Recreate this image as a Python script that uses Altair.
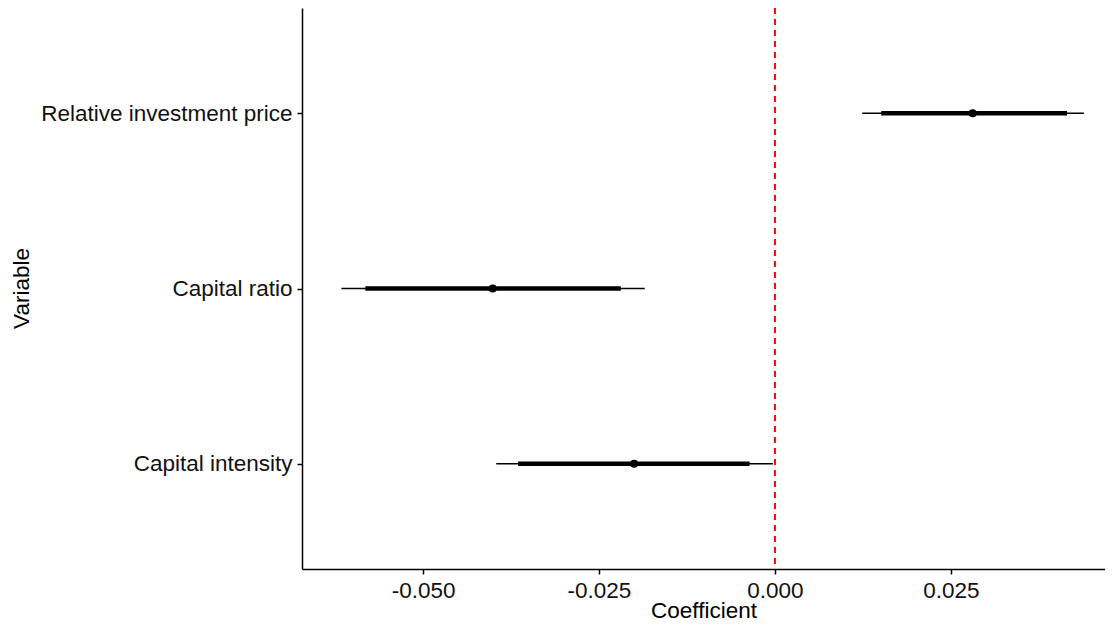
import altair as alt
import pandas as pd

variables = ["Capital intensity", "Capital ratio", "Relative investment price"]
estimate = [-0.0200, -0.0401, 0.0281]
thick_low = [-0.0365, -0.0582, 0.0151]
thick_high = [-0.0036, -0.0219, 0.0415]
thin_low = [-0.0396, -0.0616, 0.0124]
thin_high = [-0.0003, -0.0185, 0.0439]
x_ticks = [-0.050, -0.025, 0.000, 0.025]
ref_line = [0.0]

df = pd.DataFrame({
    "Variable": variables,
    "est": estimate,
    "tlo": thick_low,
    "thi": thick_high,
    "nlo": thin_low,
    "nhi": thin_high,
})

FONT = "Liberation Sans"
order = list(reversed(variables))

xscale = alt.Scale(domain=[-0.0672, 0.0469], nice=False, zero=False)
yscale = alt.Scale(domain=order, type="point", padding=0.6)

xaxis = alt.Axis(
    values=x_ticks,
    labelExpr="replace(format(datum.value, '.3f'), '\u2212', '-')",
    title="Coefficient",
    grid=False,
    titleY=48,
    titleBaseline="alphabetic",
)
yaxis = alt.Axis(
    title="Variable",
    grid=False,
    titleX=-274,
    titleY=280,
    titleBaseline="alphabetic",
    titleAngle=270,
    labelLimit=0,
)

base = alt.Chart(df)

thin = base.mark_rule(color="black", strokeWidth=1.5).encode(
    x=alt.X("nlo:Q", scale=xscale, axis=xaxis),
    x2="nhi:Q",
    y=alt.Y("Variable:N", scale=yscale, sort=order, axis=yaxis),
)
thick = base.mark_rule(color="black", strokeWidth=4.5).encode(
    x=alt.X("tlo:Q", scale=xscale),
    x2="thi:Q",
    y=alt.Y("Variable:N", scale=yscale, sort=order),
)
pts = base.mark_circle(color="black", opacity=1, size=65).encode(
    x=alt.X("est:Q", scale=xscale),
    y=alt.Y("Variable:N", scale=yscale, sort=order),
)
vline = alt.Chart(pd.DataFrame({"x": ref_line})).mark_rule(
    color="#FF0000", strokeWidth=2, strokeDash=[6, 5]
).encode(x=alt.X("x:Q", scale=xscale))

chart = alt.layer(thin, thick, pts, vline).properties(
    width=803,
    height=561,
    autosize=alt.AutoSizeParams(type="none"),
    padding={"left": 294, "top": 0, "right": 0, "bottom": 53},
).configure_view(stroke=None).configure_axis(
    labelFont=FONT,
    titleFont=FONT,
    labelFontSize=22.5,
    titleFontSize=22.5,
    labelColor="#111111",
    titleColor="#000000",
    titleFontWeight="normal",
    domainColor="#000000",
    domainWidth=1.5,
    tickColor="#000000",
    tickWidth=1.5,
    tickSize=5,
    labelPadding=5,
)

chart.save("out.html", embed_options={"renderer": "svg", "actions": False})
